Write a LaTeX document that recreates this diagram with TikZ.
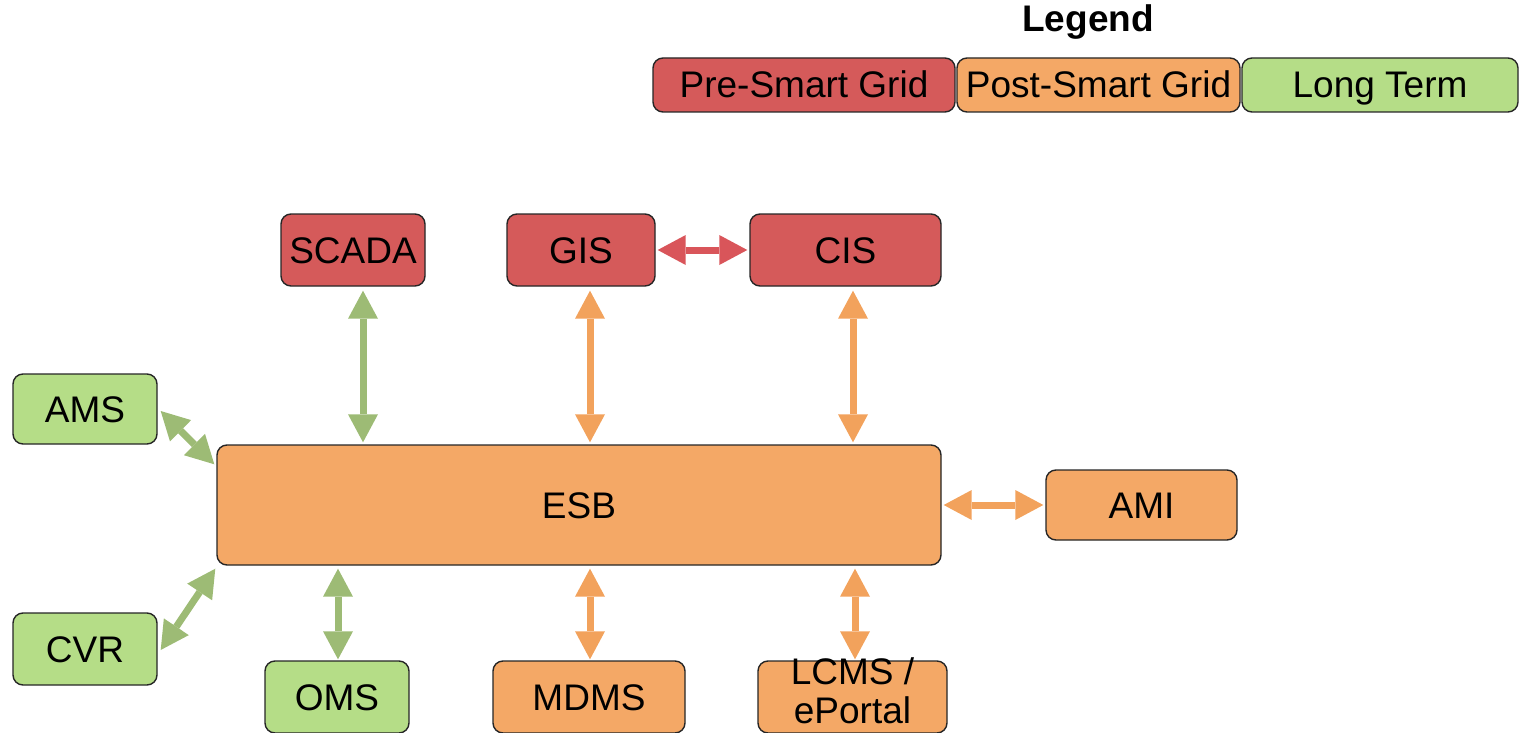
\documentclass[tikz,border=0pt]{standalone}
\usepackage{fontspec}
\setmainfont{Liberation Sans}
\usetikzlibrary{arrows.meta}
\definecolor{cred}{HTML}{D55A5A}
\definecolor{corange}{HTML}{F4A866}
\definecolor{cgreen}{HTML}{B5DD87}
\definecolor{agreen}{HTML}{9DBB75}
\definecolor{aorange}{HTML}{F2A25C}
\definecolor{ared}{HTML}{D9555A}
\newcommand{\fsz}{\fontsize{37}{42}\selectfont}
\tikzset{
  box/.style={draw=black!85, line width=1.4pt, rounded corners=10pt, inner sep=0pt, font=\fsz,
    text height=26pt, text depth=0pt},
  redbox/.style={box, fill=cred},
  orbox/.style={box, fill=corange},
  grbox/.style={box, fill=cgreen},
  conn/.style={line width=7pt,
    arrows={Triangle[width=30pt,length=28pt,line width=0pt]-Triangle[width=30pt,length=28pt,line width=0pt]}},
  gconn/.style={conn, draw=agreen, fill=agreen},
  oconn/.style={conn, draw=aorange, fill=aorange},
  rconn/.style={conn, draw=ared, fill=ared},
}
\begin{document}
\begin{tikzpicture}[x=1pt,y=1pt]
\useasboundingbox (0,0) rectangle (1524,-733);
% legend
\node[font=\fsz\bfseries] (legend) at (1088,-22) {Legend};
\node[redbox, minimum width=302pt, minimum height=54pt] (lpre) at (804,-85) {Pre-Smart Grid};
\node[orbox, minimum width=283pt, minimum height=54pt] (lpost) at (1098.5,-85) {Post-Smart Grid};
\node[grbox, minimum width=276pt, minimum height=54pt] (llong) at (1380,-85) {Long Term};
% top systems
\node[redbox, minimum width=144pt, minimum height=72pt] (scada) at (353,-250) {SCADA};
\node[redbox, minimum width=148pt, minimum height=72pt] (gis) at (581,-250) {GIS};
\node[redbox, minimum width=191pt, minimum height=72pt] (cis) at (845.5,-250) {CIS};
% ESB
\node[orbox, minimum width=724pt, minimum height=120pt] (esb) at (579,-505) {ESB};
% side systems
\node[grbox, minimum width=144pt, minimum height=70pt] (ams) at (85,-409) {AMS};
\node[grbox, minimum width=144pt, minimum height=72pt] (cvr) at (85,-649) {CVR};
\node[orbox, minimum width=191pt, minimum height=70pt] (ami) at (1141.5,-505) {AMI};
% bottom systems
\node[grbox, minimum width=144pt, minimum height=72pt] (oms) at (337,-697) {OMS};
\node[orbox, minimum width=192pt, minimum height=72pt] (mdms) at (589,-697) {MDMS};
\node[orbox, minimum width=189pt, minimum height=72pt] (lcms) at (852.5,-697) {};
\node[font=\fontsize{37}{39}\selectfont, align=center, inner sep=0pt] (lcmst) at ([yshift=6pt]lcms.center) {LCMS /\\ePortal};
% connectors
\draw[gconn] ([xshift=10pt,yshift=-4pt]scada.south) -- ([xshift=-216pt,yshift=2pt]esb.north);
\draw[oconn] ([xshift=9pt,yshift=-4pt]gis.south) -- ([xshift=11pt,yshift=2pt]esb.north);
\draw[oconn] ([xshift=7.5pt,yshift=-4pt]cis.south) -- ([xshift=274pt,yshift=2pt]esb.north);
\draw[rconn] ([xshift=2pt]gis.east) -- ([xshift=-2pt]cis.west);
\draw[gconn] ([xshift=3pt,yshift=-2pt]ams.east) -- ([xshift=-2pt,yshift=-20pt]esb.north west);
\draw[gconn] ([xshift=3pt,yshift=-1pt]cvr.east) -- ([xshift=-1pt,yshift=-3pt]esb.south west);
\draw[gconn] ([xshift=-241pt,yshift=-3pt]esb.south) -- ([xshift=1pt,yshift=1pt]oms.north);
\draw[oconn] ([xshift=11pt,yshift=-3pt]esb.south) -- ([xshift=1pt,yshift=1pt]mdms.north);
\draw[oconn] ([xshift=276pt,yshift=-3pt]esb.south) -- ([xshift=2.5pt,yshift=1pt]lcms.north);
\draw[oconn] ([xshift=2pt]esb.east) -- ([xshift=-2pt]ami.west);
\end{tikzpicture}
\end{document}
